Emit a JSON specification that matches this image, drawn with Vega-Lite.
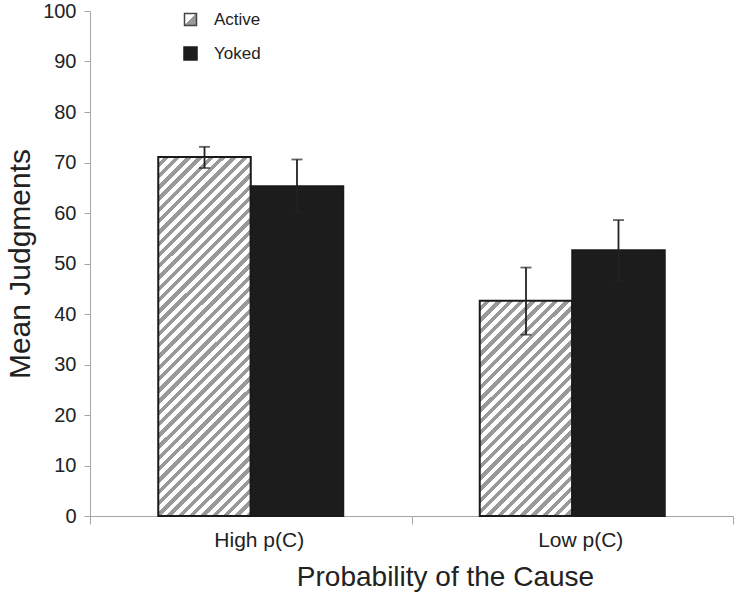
{
  "$schema": "https://vega.github.io/schema/vega-lite/v6.json",
  "width": 643,
  "height": 505,
  "autosize": "none",
  "padding": {"left": 90, "top": 11, "right": 1, "bottom": 80},
  "config": {
    "font": "Liberation Sans",
    "view": {"stroke": null},
    "axis": {"grid": false, "domainColor": "#a6a6a6", "tickColor": "#a6a6a6", "labelColor": "#222", "titleColor": "#222", "titleFontWeight": "normal", "labelFont": "Liberation Sans", "titleFont": "Liberation Sans"},
    "legend": {"title": null, "orient": "none", "padding": 0, "labelFontSize": 17, "labelColor": "#222", "labelOffset": 15}
  },
  "data": {
    "values": [
      {"cond": "High p(C)", "group": "Active", "mean": 71.1, "lo": 68.9, "hi": 73.1},
      {"cond": "High p(C)", "group": "Yoked", "mean": 65.3, "lo": 60.0, "hi": 70.6},
      {"cond": "Low p(C)", "group": "Active", "mean": 42.6, "lo": 35.9, "hi": 49.2},
      {"cond": "Low p(C)", "group": "Yoked", "mean": 52.6, "lo": 46.6, "hi": 58.6}
    ]
  },
  "encoding": {
    "x": {"field": "cond", "type": "nominal", "sort": ["High p(C)", "Low p(C)"],
      "scale": {"paddingInner": 0, "paddingOuter": 0},
      "axis": {"title": "Probability of the Cause", "labelAngle": 0, "tickBand": "extent", "tickSize": 8, "labelPadding": 5, "labelOffset": 8, "labelFontSize": 21, "titleFontSize": 28, "titlePadding": 13, "titleX": 355}},
    "xOffset": {"field": "group", "type": "nominal", "sort": ["Active", "Yoked"], "scale": {"domain": ["Active", "Yoked"], "paddingInner": 0, "paddingOuter": 0.738}}
  },
  "resolve": {"scale": {"shape": "independent"}, "legend": {"shape": "independent"}},
  "layer": [
    {
      "transform": [{"filter": "datum.group === 'Active'"}],
      "mark": {"type": "point", "filled": true, "size": 10, "opacity": 1, "stroke": "#444444", "strokeWidth": 2,
        "fill": {"gradient": "linear", "x1": 0, "y1": 0, "x2": 1, "y2": 1, "stops": [{"offset": 0, "color": "#ffffff"}, {"offset": 0.5, "color": "#ffffff"}, {"offset": 0.5, "color": "#999999"}, {"offset": 1, "color": "#999999"}]}},
      "encoding": {
        "y": {"field": "lo", "type": "quantitative",
          "scale": {"domain": [0, 100], "nice": false},
          "axis": {"title": "Mean Judgments", "values": [0, 10, 20, 30, 40, 50, 60, 70, 80, 90, 100], "tickSize": 6, "labelPadding": 8, "labelFontSize": 20, "titleFontSize": 30, "titlePadding": 7}},
        "shape": {"field": "group", "type": "nominal",
          "scale": {"domain": ["Active"], "range": ["square"]},
          "legend": {"legendX": 92, "legendY": 0, "symbolSize": 144}}
      }
    },
    {
      "transform": [{"filter": "datum.group === 'Yoked'"}],
      "mark": {"type": "point", "filled": true, "size": 10, "opacity": 1, "fill": "#1c1c1c", "stroke": "#1c1c1c", "strokeWidth": 1},
      "encoding": {
        "y": {"field": "lo", "type": "quantitative"},
        "shape": {"field": "group", "type": "nominal",
          "scale": {"domain": ["Yoked"], "range": ["square"]},
          "legend": {"legendX": 92, "legendY": 34, "symbolSize": 169}}
      }
    },
    {
      "mark": {"type": "bar", "stroke": "#1a1a1a", "strokeWidth": 2},
      "encoding": {
        "y": {"field": "mean", "type": "quantitative", "stack": false},
        "fill": {
          "condition": [
            {"test": "datum.group === 'Yoked'", "value": "#1c1c1c"},
            {"test": "datum.cond === 'High p(C)'", "value": {"gradient": "linear", "x1": 0, "y1": 0, "x2": 0.3029, "y2": 1.1784, "stops": [
{"offset":0,"color":"#fff"},{"offset":0.013,"color":"#fff"},{"offset":0.013,"color":"#999"},{"offset":0.025,"color":"#999"},
{"offset":0.025,"color":"#fff"},{"offset":0.038,"color":"#fff"},{"offset":0.038,"color":"#999"},{"offset":0.05,"color":"#999"},
{"offset":0.05,"color":"#fff"},{"offset":0.063,"color":"#fff"},{"offset":0.063,"color":"#999"},{"offset":0.075,"color":"#999"},
{"offset":0.075,"color":"#fff"},{"offset":0.088,"color":"#fff"},{"offset":0.088,"color":"#999"},{"offset":0.1,"color":"#999"},
{"offset":0.1,"color":"#fff"},{"offset":0.113,"color":"#fff"},{"offset":0.113,"color":"#999"},{"offset":0.125,"color":"#999"},
{"offset":0.125,"color":"#fff"},{"offset":0.138,"color":"#fff"},{"offset":0.138,"color":"#999"},{"offset":0.15,"color":"#999"},
{"offset":0.15,"color":"#fff"},{"offset":0.163,"color":"#fff"},{"offset":0.163,"color":"#999"},{"offset":0.175,"color":"#999"},
{"offset":0.175,"color":"#fff"},{"offset":0.188,"color":"#fff"},{"offset":0.188,"color":"#999"},{"offset":0.2,"color":"#999"},
{"offset":0.2,"color":"#fff"},{"offset":0.213,"color":"#fff"},{"offset":0.213,"color":"#999"},{"offset":0.225,"color":"#999"},
{"offset":0.225,"color":"#fff"},{"offset":0.238,"color":"#fff"},{"offset":0.238,"color":"#999"},{"offset":0.25,"color":"#999"},
{"offset":0.25,"color":"#fff"},{"offset":0.263,"color":"#fff"},{"offset":0.263,"color":"#999"},{"offset":0.275,"color":"#999"},
{"offset":0.275,"color":"#fff"},{"offset":0.288,"color":"#fff"},{"offset":0.288,"color":"#999"},{"offset":0.3,"color":"#999"},
{"offset":0.3,"color":"#fff"},{"offset":0.313,"color":"#fff"},{"offset":0.313,"color":"#999"},{"offset":0.325,"color":"#999"},
{"offset":0.325,"color":"#fff"},{"offset":0.338,"color":"#fff"},{"offset":0.338,"color":"#999"},{"offset":0.35,"color":"#999"},
{"offset":0.35,"color":"#fff"},{"offset":0.363,"color":"#fff"},{"offset":0.363,"color":"#999"},{"offset":0.375,"color":"#999"},
{"offset":0.375,"color":"#fff"},{"offset":0.388,"color":"#fff"},{"offset":0.388,"color":"#999"},{"offset":0.4,"color":"#999"},
{"offset":0.4,"color":"#fff"},{"offset":0.413,"color":"#fff"},{"offset":0.413,"color":"#999"},{"offset":0.425,"color":"#999"},
{"offset":0.425,"color":"#fff"},{"offset":0.438,"color":"#fff"},{"offset":0.438,"color":"#999"},{"offset":0.45,"color":"#999"},
{"offset":0.45,"color":"#fff"},{"offset":0.463,"color":"#fff"},{"offset":0.463,"color":"#999"},{"offset":0.475,"color":"#999"},
{"offset":0.475,"color":"#fff"},{"offset":0.488,"color":"#fff"},{"offset":0.488,"color":"#999"},{"offset":0.5,"color":"#999"},
{"offset":0.5,"color":"#fff"},{"offset":0.513,"color":"#fff"},{"offset":0.513,"color":"#999"},{"offset":0.525,"color":"#999"},
{"offset":0.525,"color":"#fff"},{"offset":0.538,"color":"#fff"},{"offset":0.538,"color":"#999"},{"offset":0.55,"color":"#999"},
{"offset":0.55,"color":"#fff"},{"offset":0.563,"color":"#fff"},{"offset":0.563,"color":"#999"},{"offset":0.575,"color":"#999"},
{"offset":0.575,"color":"#fff"},{"offset":0.588,"color":"#fff"},{"offset":0.588,"color":"#999"},{"offset":0.6,"color":"#999"},
{"offset":0.6,"color":"#fff"},{"offset":0.613,"color":"#fff"},{"offset":0.613,"color":"#999"},{"offset":0.625,"color":"#999"},
{"offset":0.625,"color":"#fff"},{"offset":0.638,"color":"#fff"},{"offset":0.638,"color":"#999"},{"offset":0.65,"color":"#999"},
{"offset":0.65,"color":"#fff"},{"offset":0.663,"color":"#fff"},{"offset":0.663,"color":"#999"},{"offset":0.675,"color":"#999"},
{"offset":0.675,"color":"#fff"},{"offset":0.688,"color":"#fff"},{"offset":0.688,"color":"#999"},{"offset":0.7,"color":"#999"},
{"offset":0.7,"color":"#fff"},{"offset":0.713,"color":"#fff"},{"offset":0.713,"color":"#999"},{"offset":0.725,"color":"#999"},
{"offset":0.725,"color":"#fff"},{"offset":0.738,"color":"#fff"},{"offset":0.738,"color":"#999"},{"offset":0.75,"color":"#999"},
{"offset":0.75,"color":"#fff"},{"offset":0.763,"color":"#fff"},{"offset":0.763,"color":"#999"},{"offset":0.775,"color":"#999"},
{"offset":0.775,"color":"#fff"},{"offset":0.788,"color":"#fff"},{"offset":0.788,"color":"#999"},{"offset":0.8,"color":"#999"},
{"offset":0.8,"color":"#fff"},{"offset":0.813,"color":"#fff"},{"offset":0.813,"color":"#999"},{"offset":0.825,"color":"#999"},
{"offset":0.825,"color":"#fff"},{"offset":0.838,"color":"#fff"},{"offset":0.838,"color":"#999"},{"offset":0.85,"color":"#999"},
{"offset":0.85,"color":"#fff"},{"offset":0.863,"color":"#fff"},{"offset":0.863,"color":"#999"},{"offset":0.875,"color":"#999"},
{"offset":0.875,"color":"#fff"},{"offset":0.888,"color":"#fff"},{"offset":0.888,"color":"#999"},{"offset":0.9,"color":"#999"},
{"offset":0.9,"color":"#fff"},{"offset":0.913,"color":"#fff"},{"offset":0.913,"color":"#999"},{"offset":0.925,"color":"#999"},
{"offset":0.925,"color":"#fff"},{"offset":0.938,"color":"#fff"},{"offset":0.938,"color":"#999"},{"offset":0.95,"color":"#999"},
{"offset":0.95,"color":"#fff"},{"offset":0.963,"color":"#fff"},{"offset":0.963,"color":"#999"},{"offset":0.975,"color":"#999"},
{"offset":0.975,"color":"#fff"},{"offset":0.988,"color":"#fff"},{"offset":0.988,"color":"#999"},{"offset":1,"color":"#999"}
            ]}}
          ],
          "value": {"gradient": "linear", "x1": 0, "y1": 0, "x2": 0.7596, "y2": 1.7707, "stops": [
{"offset":0,"color":"#fff"},{"offset":0.013,"color":"#fff"},{"offset":0.013,"color":"#999"},{"offset":0.025,"color":"#999"},
{"offset":0.025,"color":"#fff"},{"offset":0.038,"color":"#fff"},{"offset":0.038,"color":"#999"},{"offset":0.05,"color":"#999"},
{"offset":0.05,"color":"#fff"},{"offset":0.063,"color":"#fff"},{"offset":0.063,"color":"#999"},{"offset":0.075,"color":"#999"},
{"offset":0.075,"color":"#fff"},{"offset":0.088,"color":"#fff"},{"offset":0.088,"color":"#999"},{"offset":0.1,"color":"#999"},
{"offset":0.1,"color":"#fff"},{"offset":0.113,"color":"#fff"},{"offset":0.113,"color":"#999"},{"offset":0.125,"color":"#999"},
{"offset":0.125,"color":"#fff"},{"offset":0.138,"color":"#fff"},{"offset":0.138,"color":"#999"},{"offset":0.15,"color":"#999"},
{"offset":0.15,"color":"#fff"},{"offset":0.163,"color":"#fff"},{"offset":0.163,"color":"#999"},{"offset":0.175,"color":"#999"},
{"offset":0.175,"color":"#fff"},{"offset":0.188,"color":"#fff"},{"offset":0.188,"color":"#999"},{"offset":0.2,"color":"#999"},
{"offset":0.2,"color":"#fff"},{"offset":0.213,"color":"#fff"},{"offset":0.213,"color":"#999"},{"offset":0.225,"color":"#999"},
{"offset":0.225,"color":"#fff"},{"offset":0.238,"color":"#fff"},{"offset":0.238,"color":"#999"},{"offset":0.25,"color":"#999"},
{"offset":0.25,"color":"#fff"},{"offset":0.263,"color":"#fff"},{"offset":0.263,"color":"#999"},{"offset":0.275,"color":"#999"},
{"offset":0.275,"color":"#fff"},{"offset":0.288,"color":"#fff"},{"offset":0.288,"color":"#999"},{"offset":0.3,"color":"#999"},
{"offset":0.3,"color":"#fff"},{"offset":0.313,"color":"#fff"},{"offset":0.313,"color":"#999"},{"offset":0.325,"color":"#999"},
{"offset":0.325,"color":"#fff"},{"offset":0.338,"color":"#fff"},{"offset":0.338,"color":"#999"},{"offset":0.35,"color":"#999"},
{"offset":0.35,"color":"#fff"},{"offset":0.363,"color":"#fff"},{"offset":0.363,"color":"#999"},{"offset":0.375,"color":"#999"},
{"offset":0.375,"color":"#fff"},{"offset":0.388,"color":"#fff"},{"offset":0.388,"color":"#999"},{"offset":0.4,"color":"#999"},
{"offset":0.4,"color":"#fff"},{"offset":0.413,"color":"#fff"},{"offset":0.413,"color":"#999"},{"offset":0.425,"color":"#999"},
{"offset":0.425,"color":"#fff"},{"offset":0.438,"color":"#fff"},{"offset":0.438,"color":"#999"},{"offset":0.45,"color":"#999"},
{"offset":0.45,"color":"#fff"},{"offset":0.463,"color":"#fff"},{"offset":0.463,"color":"#999"},{"offset":0.475,"color":"#999"},
{"offset":0.475,"color":"#fff"},{"offset":0.488,"color":"#fff"},{"offset":0.488,"color":"#999"},{"offset":0.5,"color":"#999"},
{"offset":0.5,"color":"#fff"},{"offset":0.513,"color":"#fff"},{"offset":0.513,"color":"#999"},{"offset":0.525,"color":"#999"},
{"offset":0.525,"color":"#fff"},{"offset":0.538,"color":"#fff"},{"offset":0.538,"color":"#999"},{"offset":0.55,"color":"#999"},
{"offset":0.55,"color":"#fff"},{"offset":0.563,"color":"#fff"},{"offset":0.563,"color":"#999"},{"offset":0.575,"color":"#999"},
{"offset":0.575,"color":"#fff"},{"offset":0.588,"color":"#fff"},{"offset":0.588,"color":"#999"},{"offset":0.6,"color":"#999"},
{"offset":0.6,"color":"#fff"},{"offset":0.613,"color":"#fff"},{"offset":0.613,"color":"#999"},{"offset":0.625,"color":"#999"},
{"offset":0.625,"color":"#fff"},{"offset":0.638,"color":"#fff"},{"offset":0.638,"color":"#999"},{"offset":0.65,"color":"#999"},
{"offset":0.65,"color":"#fff"},{"offset":0.663,"color":"#fff"},{"offset":0.663,"color":"#999"},{"offset":0.675,"color":"#999"},
{"offset":0.675,"color":"#fff"},{"offset":0.688,"color":"#fff"},{"offset":0.688,"color":"#999"},{"offset":0.7,"color":"#999"},
{"offset":0.7,"color":"#fff"},{"offset":1,"color":"#fff"}
          ]}
        }
      }
    },
    {
      "mark": {"type": "rule", "color": "#222", "strokeWidth": 1.8},
      "encoding": {
        "y": {"field": "lo", "type": "quantitative"},
        "y2": {"field": "hi"}
      }
    },
    {
      "mark": {"type": "tick", "color": "#222", "thickness": 1.8, "size": 11},
      "encoding": {"y": {"field": "lo", "type": "quantitative"}}
    },
    {
      "mark": {"type": "tick", "color": "#222", "thickness": 1.8, "size": 11},
      "encoding": {"y": {"field": "hi", "type": "quantitative"}}
    }
  ]
}
